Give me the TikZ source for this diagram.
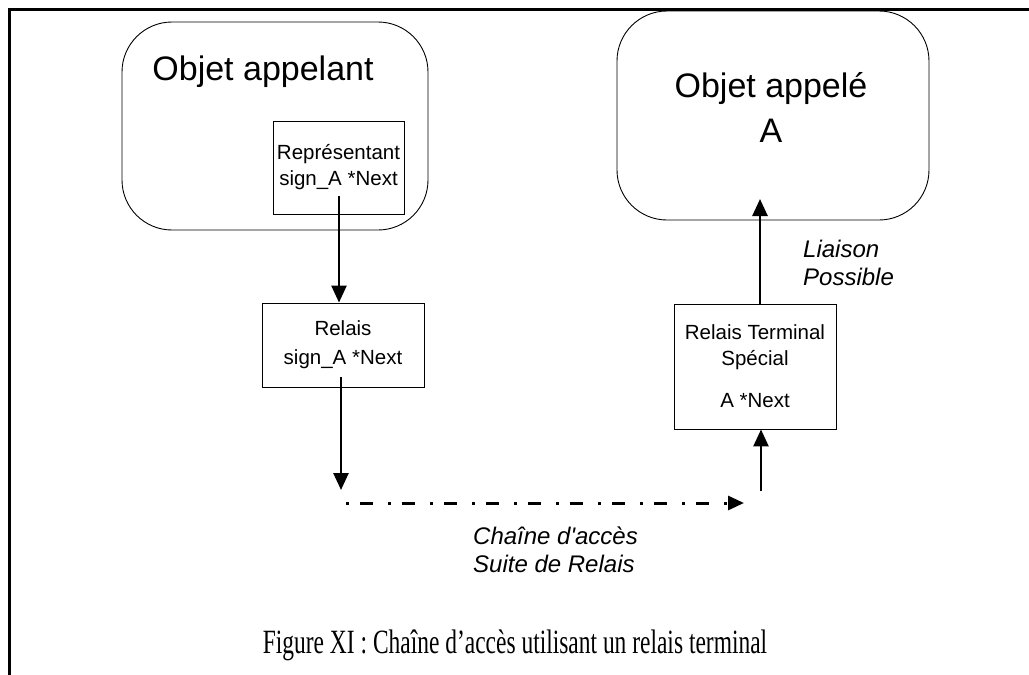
\documentclass[tikz,border=0pt]{standalone}
\usepackage{fontspec}
\setmainfont{Liberation Serif}
\setsansfont{Liberation Sans}
\usetikzlibrary{arrows.meta}
\begin{document}
\begin{tikzpicture}[x=1pt,y=-1pt,
  objbox/.style={draw, line width=0.9pt, rounded corners=50pt, inner sep=0pt},
  relbox/.style={draw, line width=0.9pt, inner sep=0pt, align=center,
    font=\sffamily\fontsize{20.5}{26}\selectfont},
  biglabel/.style={align=center, inner sep=0pt,
    font=\sffamily\fontsize{34}{45}\selectfont},
  note/.style={align=left, inner sep=0pt, anchor=north west,
    font=\sffamily\itshape\fontsize{24}{28}\selectfont},
  link/.style={line width=2.6pt, -{Triangle[length=17pt,width=15pt]}},
  chain/.style={line width=3pt, dash pattern=on 3pt off 11pt on 13pt off 15pt,
    -{Triangle[length=16pt,width=14pt]}},
]
\useasboundingbox (0,0) rectangle (1029,675);

% frame
\draw[line width=3pt] (9.5,675) -- (9.5,9.5) -- (1029,9.5);

% objects
\node[objbox, minimum width=306pt, minimum height=208pt] (caller) at (275,126) {};
\node[biglabel] (callerlbl) at (263,72) {Objet appelant};
\node[objbox, minimum width=312pt, minimum height=209pt] (called) at (773,115.5) {};
\node[biglabel] (calledlbl) at (771,107) {Objet appel\'e\\A};

% relays
\node[relbox, minimum width=131pt, minimum height=93pt] (rep) at (338.5,167.5)
  {Repr\'esentant\\sign\_A *Next};
\node[relbox, minimum width=162pt, minimum height=84pt] (relais) at (343,345)
  {Relais\\[3pt]sign\_A *Next};
\node[relbox, minimum width=162pt, minimum height=125pt] (term) at (755,366.5)
  {Relais Terminal\\Sp\'ecial\\[16pt]A *Next};

% chain end points
\coordinate (down) at (341,490);
\coordinate (chainA) at (346,503);
\coordinate (chainB) at (744,503);
\coordinate (up) at (761,491);
\coordinate (reach) at (760,199);
\coordinate (repout) at (339,196);
\coordinate (relout) at (341,377);

% connectors
\draw[link] (repout) -- (repout |- relais.north);
\draw[link] (relout) -- (down);
\draw[chain] (chainA) -- (chainB);
\draw[link] (up) -- (up |- term.south);
\draw[link] (reach |- term.north) -- (reach);

% labels
\node[note] (liaison) at (803,240) {Liaison\\Possible};
\node[note] (chainlbl) at (473,527) {Cha\^ine d\textquotesingle acc\`es\\Suite de Relais};

% caption
\node[inner sep=0pt, font=\rmfamily\fontsize{34}{40}\selectfont] (caption) at (515,645)
  {\scalebox{0.69}[1]{Figure XI : Chaîne d’accès utilisant un relais terminal}};
\end{tikzpicture}
\end{document}
